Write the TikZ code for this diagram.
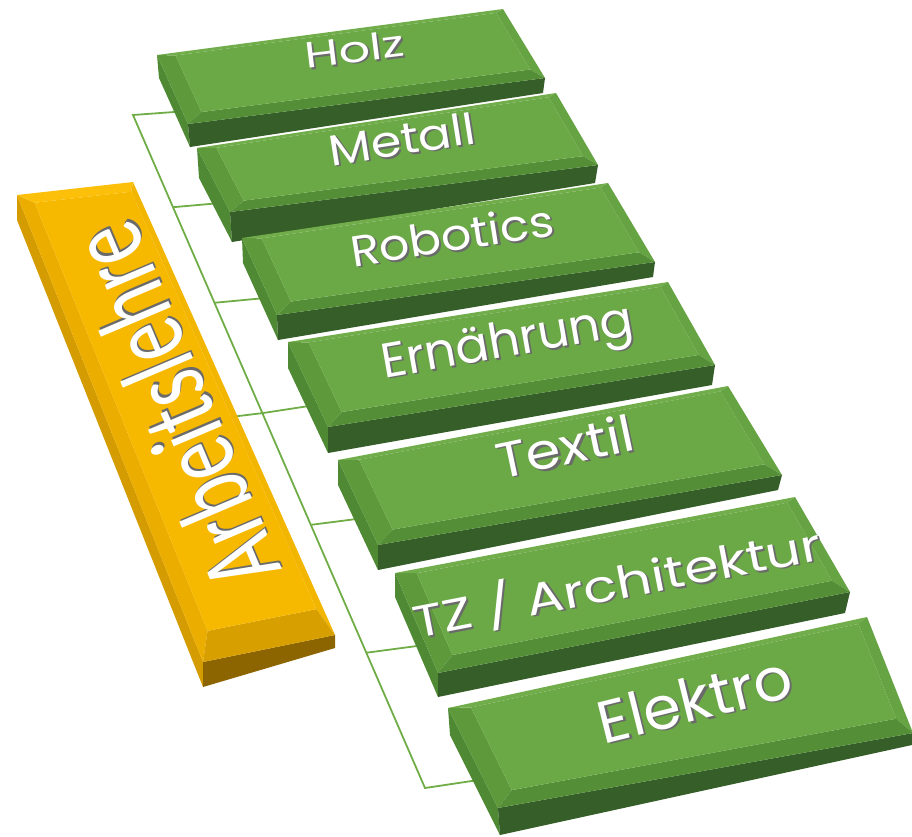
\documentclass[tikz,border=0pt]{standalone}
\usepackage{graphicx}
\usepackage{fontspec}
\usetikzlibrary{calc}
\newfontfamily\lblfont{Poppins}
\newfontfamily\mainlblfont{Carlito}
\definecolor{conn}{HTML}{70AD47}
\definecolor{gTop}{HTML}{6BA846}
\definecolor{gBevB}{HTML}{71AD4A}
\definecolor{gBevL}{HTML}{5E9A3C}
\definecolor{gBevR}{HTML}{66A343}
\definecolor{gBevF}{HTML}{548F37}
\definecolor{gFront}{HTML}{365E28}
\definecolor{gSide}{HTML}{4F8934}
\definecolor{yTop}{HTML}{F7B900}
\definecolor{yBevB}{HTML}{FCC00A}
\definecolor{yBevL}{HTML}{EAAD00}
\definecolor{yBevR}{HTML}{F2B600}
\definecolor{yBevF}{HTML}{D89F00}
\definecolor{yFront}{HTML}{8C6500}
\definecolor{ySide}{HTML}{D49C00}
\definecolor{shadowgray}{HTML}{6A6A6A}
\tikzset{
  gtop/.style={fill=gTop}, gbevB/.style={fill=gBevB}, gbevL/.style={fill=gBevL},
  gbevR/.style={fill=gBevR}, gbevF/.style={fill=gBevF}, gfront/.style={fill=gFront},
  gside/.style={fill=gSide},
  ytop/.style={fill=yTop}, ybevB/.style={fill=yBevB}, ybevL/.style={fill=yBevL},
  ybevR/.style={fill=yBevR}, ybevF/.style={fill=yBevF}, yfront/.style={fill=yFront},
  yside/.style={fill=ySide},
  connline/.style={draw=conn, line width=1.8pt},
  lbl/.style={text=white, inner sep=0pt, anchor=center},
}
% bevel insets (fractions)
\def\uL{0.05}\def\uR{0.975}\def\vB{0.04}\def\vF{0.86}
\newcommand\mkbox[8]{%
  \coordinate (#1-TL) at (#2);
  \coordinate (#1-TR) at (#3);
  \coordinate (#1-R) at (#4);
  \coordinate (#1-BL) at (#5);
  \coordinate (#1-FBL) at (#6);
  \coordinate (#1-FBR) at (#7);
  \coordinate (#1-TLd) at ($(#1-TL)+(#1-FBL)-(#1-BL)$);
  \coordinate (#1-iTL) at ($($(#1-TL)!\uL!(#1-TR)$)!\vB!($(#1-BL)!\uL!(#1-R)$)$);
  \coordinate (#1-iTR) at ($($(#1-TL)!\uR!(#1-TR)$)!\vB!($(#1-BL)!\uR!(#1-R)$)$);
  \coordinate (#1-iR) at ($($(#1-TL)!\uR!(#1-TR)$)!\vF!($(#1-BL)!\uR!(#1-R)$)$);
  \coordinate (#1-iBL) at ($($(#1-TL)!\uL!(#1-TR)$)!\vF!($(#1-BL)!\uL!(#1-R)$)$);
  \fill[#8side] (#1-TL) -- (#1-TLd) -- (#1-FBL) -- (#1-BL) -- cycle;
  \fill[#8front] (#1-BL) -- (#1-FBL) -- (#1-FBR) -- (#1-R) -- cycle;
  \fill[#8bevL] (#1-TL) -- (#1-iTL) -- (#1-iBL) -- (#1-BL) -- cycle;
  \fill[#8bevB] (#1-TL) -- (#1-TR) -- (#1-iTR) -- (#1-iTL) -- cycle;
  \fill[#8bevR] (#1-TR) -- (#1-R) -- (#1-iR) -- (#1-iTR) -- cycle;
  \fill[#8bevF] (#1-BL) -- (#1-iBL) -- (#1-iR) -- (#1-R) -- cycle;
  \fill[#8top] (#1-iTL) -- (#1-iTR) -- (#1-iR) -- (#1-iBL) -- cycle;
}
% label with drop shadow in a single node
\newcommand\mklbl[7]{%
  \node[lbl, rotate=#3] (#1) at (#2)
    {#6\rlap{\hspace*{1.8pt}\raisebox{-1.8pt}{\textcolor{shadowgray}{\resizebox{#4pt}{#5pt}{#7}}}}\resizebox{#4pt}{#5pt}{#7}};
}
\begin{document}
\begin{tikzpicture}[x=1pt,y=-1pt]
\useasboundingbox (0,0) rectangle (912,836);
% ---------- connectors ----------
\coordinate (sTop) at (133,115);
\coordinate (sBot) at (425,788);
\coordinate (s1) at (sTop);
\coordinate (s2) at ($(sTop)!0.137!(sBot)$);
\coordinate (s3) at ($(sTop)!0.279!(sBot)$);
\coordinate (s4) at ($(sTop)!0.443!(sBot)$);
\coordinate (s5) at ($(sTop)!0.609!(sBot)$);
\coordinate (s6) at ($(sTop)!0.799!(sBot)$);
\coordinate (s7) at (sBot);
\coordinate (e1) at (188,111);
\coordinate (e2) at (232,202);
\coordinate (e3) at (276,297);
\coordinate (e4) at (322,404);
\coordinate (e5) at (372,517);
\coordinate (e6) at (432,644);
\coordinate (e7) at (485,779);
\coordinate (ypar) at (222,418);
\draw[connline, line join=miter] (e1) -- (s1) -- (s7) -- (e7);
\draw[connline] (s2) -- (e2);
\draw[connline] (s3) -- (e3);
\draw[connline] (ypar) -- (s4) -- (e4);
\draw[connline] (s5) -- (e5);
\draw[connline] (s6) -- (e6);
% ---------- parent box ----------
\begingroup
\def\uL{0.12}\def\uR{0.95}\def\vB{0.02}\def\vF{0.94}
\mkbox{arb}{17,195}{133,182}{335,635}{203,662}{203,687}{335,648}{y}
\endgroup
\mklbl{arbtxt}{174,407}{113}{384}{76}{\mainlblfont}{Arbeitslehre}
% ---------- child boxes ----------
\mkbox{holz}{157,55}{503,9}{545,78}{188,124}{190,147}{543,93}{g}
\mklbl{holztxt}{355,50}{7}{100}{27}{\lblfont}{Holz}
\mkbox{metall}{197,148}{556,93}{598,165}{230,212}{232,242}{595,183}{g}
\mklbl{metalltxt}{402,140}{9}{148}{32}{\lblfont}{Metall}
\mkbox{robo}{242,238}{608,183}{655,262}{277,315}{278,340}{653,277}{g}
\mklbl{robotxt}{452,236}{9}{205}{33}{\lblfont}{Robotics}
\mkbox{ern}{288,342}{668,282}{715,365}{328,427}{328,453}{712,385}{g}
\mklbl{erntxt}{508,346}{10}{255}{36}{\lblfont}{Ernährung}
\mkbox{textil}{338,460}{728,386}{782,475}{378,545}{378,570}{778,490}{g}
\mklbl{textiltxt}{565,447}{12}{140}{38}{\lblfont}{Textil}
\mkbox{tz}{395,573}{795,497}{850,592}{438,673}{438,697}{845,613}{g}
\mklbl{tztxt}{617,583}{11}{415}{42}{\lblfont}{TZ / Architektur}
\mkbox{elektro}{448,708}{867,617}{913,733}{498,808}{500,835}{912,745}{g}
\mklbl{elektrotxt}{695,700}{14}{198}{44}{\lblfont}{Elektro}
\end{tikzpicture}
\end{document}
